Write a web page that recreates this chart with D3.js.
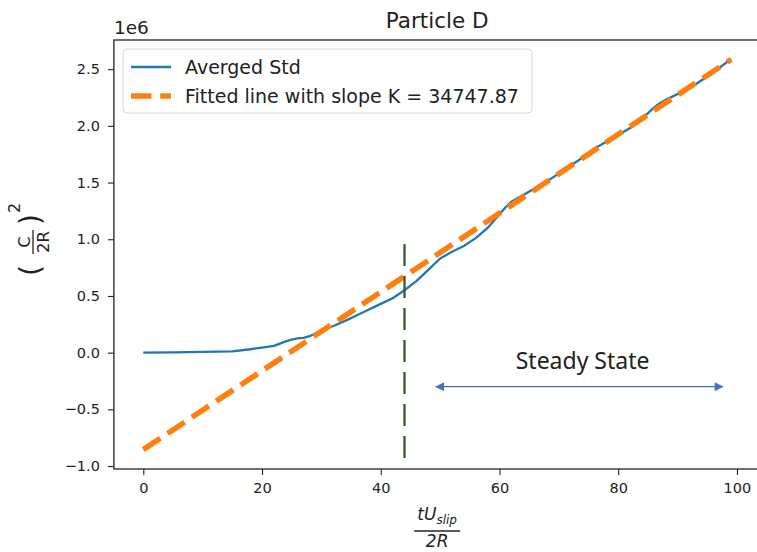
<!DOCTYPE html>
<html>

<head>
  <meta charset="utf-8">
  <title>Particle D</title>
  <style>
    body,
    html {
      margin: 0;
      padding: 0;
      background: #fff;
    }

    svg {
      display: block;
      font-family: "DejaVu Sans", sans-serif;
    }
  </style>
</head>

<body>

  <svg id="svg" width="757" height="552"></svg>

  <script src="https://d3js.org/d3.v7.min.js"></script>

  <script>
    // values in units of 1e6
    const stdX = [0, 5, 10, 15, 18, 20, 22, 24, 25, 26, 27, 28, 30, 32, 34, 36, 38, 40, 42, 44,
      46, 48, 50, 52, 54, 56, 58, 60, 61, 62, 64, 66, 68, 70, 72, 74, 76, 78, 80, 82,
      84, 86, 87, 88, 90, 92, 94, 96, 98, 99]
    const stdY = [0.0, 0.003, 0.006, 0.012, 0.03, 0.045, 0.06, 0.10, 0.115, 0.125, 0.13, 0.145, 0.195, 0.235, 0.28, 0.33, 0.38, 0.43, 0.48, 0.55,
      0.63, 0.73, 0.83, 0.89, 0.94, 1.01, 1.10, 1.22, 1.28, 1.33, 1.39, 1.45, 1.51, 1.58, 1.65, 1.72, 1.80, 1.86, 1.92, 1.98,
      2.06, 2.16, 2.20, 2.23, 2.28, 2.33, 2.40, 2.47, 2.55, 2.59]

    const fitX = [0, 99]
    const fitY = [-0.855, 2.585]

    const vlineX = [44, 44]
    const vlineY = [-0.93, 0.97]

    const arrowX = [49.3, 97.6]
    const arrowY = [-0.30, -0.30]
    const stateLabel = { x: 74, y: -0.145, text: "Steady State" }

    const xTicks = [0, 20, 40, 60, 80, 100]
    const yTicks = [-1.0, -0.5, 0.0, 0.5, 1.0, 1.5, 2.0, 2.5]
    const legendLabels = ["Averged Std", "Fitted line with slope K = 34747.87"]

    const plotLeft = 113.9, plotRight = 760.4, plotTop = 40, plotBottom = 469

    const svg = d3.select("#svg")

    const xScale = d3.scaleLinear().domain([-4.95, 103.95]).range([plotLeft, plotRight])
    const yScale = d3.scaleLinear().domain([-1.026, 2.757]).range([plotBottom, plotTop])

    const line = d3.line()
      .x(d => xScale(d[0]))
      .y(d => yScale(d[1]))

    // axes
    const fmt = v => d3.format(".1f")(v)
    const xAxis = svg.append("g")
      .attr("transform", `translate(0, ${plotBottom})`)
      .call(d3.axisBottom(xScale).tickValues(xTicks).tickSize(6).tickPadding(8).tickFormat(d3.format("d")))
    const yAxis = svg.append("g")
      .attr("transform", `translate(${plotLeft}, 0)`)
      .call(d3.axisLeft(yScale).tickValues(yTicks).tickSize(6).tickPadding(8).tickFormat(fmt))

    for (const ax of [xAxis, yAxis]) {
      ax.select(".domain").remove()
      ax.selectAll(".tick line").attr("stroke", "#222").attr("stroke-width", 1.1)
      ax.selectAll(".tick text")
        .attr("fill", "#222")
        .style("font-family", "DejaVu Sans")
        .style("font-size", "14.5px")
    }

    // data
    svg.append("path")
      .attr("d", line(stdX.map((x, i) => [x, stdY[i]])))
      .attr("fill", "none")
      .attr("stroke", "#1f77b4")
      .attr("stroke-width", 2.3)
      .attr("stroke-linejoin", "round")

    svg.append("path")
      .attr("d", line(fitX.map((x, i) => [x, fitY[i]])))
      .attr("fill", "none")
      .attr("stroke", "#ff7f0e")
      .attr("stroke-width", 5.5)
      .attr("stroke-dasharray", "20.4,8.8")

    svg.append("path")
      .attr("d", line(vlineX.map((x, i) => [x, vlineY[i]])))
      .attr("fill", "none")
      .attr("stroke", "#3a5a28")
      .attr("stroke-width", 2.3)
      .attr("stroke-dasharray", "22,10")

    // steady state arrow
    const defs = svg.append("defs")
    defs.append("marker")
      .attr("id", "head")
      .attr("viewBox", "0 0 10 10")
      .attr("refX", 9).attr("refY", 5)
      .attr("markerWidth", 11).attr("markerHeight", 9)
      .attr("markerUnits", "userSpaceOnUse")
      .attr("orient", "auto-start-reverse")
      .append("path")
      .attr("d", "M0,0 L10,5 L0,10 Z")
      .attr("fill", "#4472c4")

    svg.append("path")
      .attr("d", line(arrowX.map((x, i) => [x, arrowY[i]])))
      .attr("stroke", "#4472c4")
      .attr("stroke-width", 1.3)
      .attr("marker-start", "url(#head)")
      .attr("marker-end", "url(#head)")

    svg.append("text")
      .attr("x", xScale(stateLabel.x))
      .attr("y", yScale(stateLabel.y))
      .attr("text-anchor", "middle")
      .style("font-family", "Noto Sans")
      .style("font-size", "23px")
      .attr("fill", "#222")
      .text(stateLabel.text)

    // spines
    svg.append("rect")
      .attr("x", plotLeft).attr("y", plotTop)
      .attr("width", plotRight - plotLeft).attr("height", plotBottom - plotTop)
      .attr("fill", "none")
      .attr("stroke", "#222")
      .attr("stroke-width", 1.3)

    // legend
    const legend = svg.append("g")
    legend.append("rect")
      .attr("x", 123).attr("y", 49)
      .attr("width", 409).attr("height", 64)
      .attr("rx", 4)
      .attr("fill", "#fff").attr("fill-opacity", 0.8)
      .attr("stroke", "#d6d6d6")
    const styles = [
      { color: "#1f77b4", width: 2.3, dash: null },
      { color: "#ff7f0e", width: 5.5, dash: "20.4,8.8" }
    ]
    legendLabels.forEach((lab, i) => {
      const yy = 67 + i * 29
      legend.append("line")
        .attr("x1", 131).attr("x2", 171)
        .attr("y1", yy).attr("y2", yy)
        .attr("stroke", styles[i].color)
        .attr("stroke-width", styles[i].width)
        .attr("stroke-dasharray", styles[i].dash)
      legend.append("text")
        .attr("x", 185).attr("y", yy + 6.5)
        .style("font-size", "19px")
        .attr("fill", "#222")
        .text(lab)
    })

    // title and offset
    svg.append("text")
      .attr("x", (plotLeft + plotRight) / 2).attr("y", 28)
      .attr("text-anchor", "middle")
      .style("font-size", "21.5px")
      .attr("fill", "#222")
      .text("Particle D")

    svg.append("text")
      .attr("x", plotLeft).attr("y", 34)
      .style("font-size", "18.5px")
      .attr("fill", "#222")
      .text("1e6")

    // x label: tU_slip / 2R
    const xl = svg.append("g")
      .attr("transform", `translate(${(plotLeft + plotRight) / 2}, 0)`)
      .style("font-style", "italic")
      .attr("fill", "#222")
    const num = xl.append("text")
      .attr("x", 0).attr("y", 520)
      .attr("text-anchor", "middle")
      .style("font-size", "17px")
    num.append("tspan").text("tU")
    num.append("tspan").attr("dy", 4).style("font-size", "12px").text("slip")
    xl.append("line")
      .attr("x1", -23).attr("x2", 23)
      .attr("y1", 531).attr("y2", 531)
      .attr("stroke", "#222").attr("stroke-width", 1.3)
    xl.append("text")
      .attr("x", 0).attr("y", 547)
      .attr("text-anchor", "middle")
      .style("font-size", "17px")
      .text("2R")

    // y label: (C / 2R)^2
    const yl = svg.append("g")
      .attr("transform", "translate(33, 242) rotate(-90)")
      .attr("fill", "#222")
    yl.append("text").attr("x", -34).attr("y", 7).style("font-size", "28px").text("(")
    yl.append("text").attr("x", 0).attr("y", -3).attr("text-anchor", "middle")
      .style("font-size", "16.5px").text("C")
    yl.append("line").attr("x1", -12).attr("x2", 12).attr("y1", 0).attr("y2", 0)
      .attr("stroke", "#222").attr("stroke-width", 1.3)
    yl.append("text").attr("x", 0).attr("y", 16).attr("text-anchor", "middle")
      .style("font-size", "16.5px").text("2R")
    yl.append("text").attr("x", 17).attr("y", 7).style("font-size", "28px").text(")")
    yl.append("text").attr("x", 29).attr("y", -13).style("font-size", "16px").text("2")
  </script>

</body>

</html>
